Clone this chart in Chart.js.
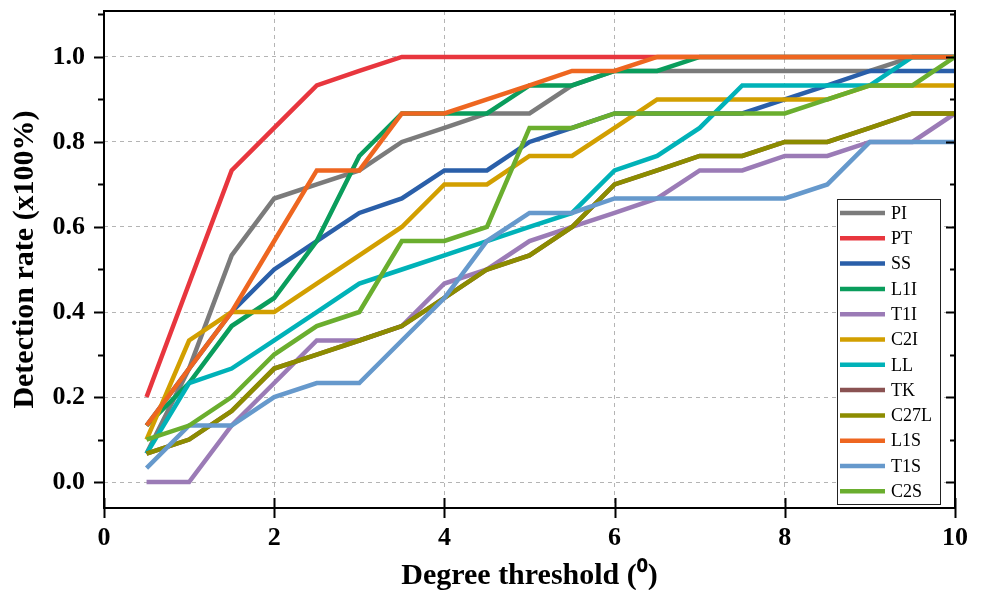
<!DOCTYPE html>
<html>
<head>
<meta charset="utf-8">
<script src="https://cdn.jsdelivr.net/npm/chart.js@4.4.1/dist/chart.umd.min.js"></script>
<style>
  body { margin: 0; background: #fff; }
  #wrap { width: 984px; height: 590px; position: relative; }
</style>
</head>
<body>
<div id="wrap"><canvas id="detChart"></canvas></div>
<script>
// degree thresholds (x axis)
var thresholds = [0.5, 1, 1.5, 2, 2.5, 3, 3.5, 4, 4.5, 5, 5.5, 6, 6.5, 7, 7.5, 8, 8.5, 9, 9.5, 10];

// detection rates per method
var PI   = [0.067, 0.267, 0.533, 0.667, 0.7, 0.733, 0.8, 0.833, 0.867, 0.867, 0.933, 0.967, 0.967, 0.967, 0.967, 0.967, 0.967, 0.967, 1, 1];
var PT   = [0.2, 0.467, 0.733, 0.833, 0.933, 0.967, 1, 1, 1, 1, 1, 1, 1, 1, 1, 1, 1, 1, 1, 1];
var SS   = [0.133, 0.267, 0.4, 0.5, 0.567, 0.633, 0.667, 0.733, 0.733, 0.8, 0.833, 0.867, 0.867, 0.867, 0.867, 0.9, 0.933, 0.967, 0.967, 0.967];
var L1I  = [0.133, 0.233, 0.367, 0.433, 0.567, 0.767, 0.867, 0.867, 0.867, 0.933, 0.933, 0.967, 0.967, 1, 1, 1, 1, 1, 1, 1];
var T1I  = [0, 0, 0.133, 0.233, 0.333, 0.333, 0.367, 0.467, 0.5, 0.567, 0.6, 0.633, 0.667, 0.733, 0.733, 0.767, 0.767, 0.8, 0.8, 0.867];
var C2I  = [0.1, 0.333, 0.4, 0.4, 0.467, 0.533, 0.6, 0.7, 0.7, 0.767, 0.767, 0.833, 0.9, 0.9, 0.9, 0.9, 0.9, 0.933, 0.933, 0.933];
var LL   = [0.067, 0.233, 0.267, 0.333, 0.4, 0.467, 0.5, 0.533, 0.567, 0.6, 0.633, 0.733, 0.767, 0.833, 0.933, 0.933, 0.933, 0.933, 1, 1];
var TK   = [0.067, 0.1, 0.167, 0.267, 0.3, 0.333, 0.367, 0.433, 0.5, 0.533, 0.6, 0.7, 0.733, 0.767, 0.767, 0.8, 0.8, 0.833, 0.867, 0.867];
var C27L = [0.067, 0.1, 0.167, 0.267, 0.3, 0.333, 0.367, 0.433, 0.5, 0.533, 0.6, 0.7, 0.733, 0.767, 0.767, 0.8, 0.8, 0.833, 0.867, 0.867];
var L1S  = [0.133, 0.267, 0.4, 0.567, 0.733, 0.733, 0.867, 0.867, 0.9, 0.933, 0.967, 0.967, 1, 1, 1, 1, 1, 1, 1, 1];
var T1S  = [0.033, 0.133, 0.133, 0.2, 0.233, 0.233, 0.333, 0.433, 0.567, 0.633, 0.633, 0.667, 0.667, 0.667, 0.667, 0.667, 0.7, 0.8, 0.8, 0.8];
var C2S  = [0.1, 0.133, 0.2, 0.3, 0.367, 0.4, 0.567, 0.567, 0.6, 0.833, 0.833, 0.867, 0.867, 0.867, 0.867, 0.867, 0.9, 0.933, 0.933, 1];

var names  = ['PI', 'PT', 'SS', 'L1I', 'T1I', 'C2I', 'LL', 'TK', 'C27L', 'L1S', 'T1S', 'C2S'];
var series = [PI, PT, SS, L1I, T1I, C2I, LL, TK, C27L, L1S, T1S, C2S];
var colors = ['#7b7b7b', '#e8363e', '#2a5fa9', '#0a9d5c', '#9b7bb6', '#d29f00',
              '#00b2b8', '#8a5252', '#8c8c00', '#ee6620', '#6699cc', '#6aae2e'];

var xTicks = [0, 2, 4, 6, 8, 10];
var yTicks = [0, 0.2, 0.4, 0.6, 0.8, 1.0];

var serif = "'Liberation Serif', 'Times New Roman', serif";

var datasets = names.map(function (n, i) {
    return {
        label: n,
        data: thresholds.map(function (t, k) { return { x: t, y: series[i][k] }; }),
        borderColor: colors[i],
        backgroundColor: colors[i],
        borderWidth: 4.5,
        pointRadius: 0,
        tension: 0,
        order: names.length - i // later series drawn on top
    };
});

// frame, axis ticks (major + minor) and the boxed legend
var framePlugin = {
    id: 'frame',
    afterDraw: function (chart) {
        var ctx = chart.ctx, a = chart.chartArea;
        var x = chart.scales.x, y = chart.scales.y;
        ctx.save();
        ctx.strokeStyle = '#000';
        ctx.lineWidth = 2;
        ctx.strokeRect(a.left, a.top, a.right - a.left, a.bottom - a.top);

        ctx.beginPath();
        for (var i = 0; i <= 11; i++) {
            var py = Math.round(y.getPixelForValue(i / 10)) + 0.5;
            if (py < a.top) continue;
            var major = i % 2 === 0;
            ctx.moveTo(a.left, py); ctx.lineTo(a.left - (major ? 10 : 6), py);
            ctx.moveTo(a.right, py); ctx.lineTo(a.right - (major ? 9 : 5), py);
        }
        xTicks.forEach(function (v) {
            var px = Math.round(x.getPixelForValue(v)) + 0.5;
            ctx.moveTo(px, a.bottom - 10); ctx.lineTo(px, a.bottom + 10);
        });
        ctx.stroke();

        // legend
        var lx = 837, ly = 199, lw = 103, lh = 305;
        ctx.fillStyle = '#fff';
        ctx.fillRect(lx, ly, lw, lh);
        ctx.lineWidth = 1;
        ctx.strokeStyle = '#222';
        ctx.strokeRect(lx + 0.5, ly + 0.5, lw, lh);
        ctx.font = "18px " + serif;
        ctx.textBaseline = 'middle';
        ctx.textAlign = 'left';
        chart.data.datasets.forEach(function (ds, i) {
            var cy = 213 + i * 25.3;
            ctx.strokeStyle = ds.borderColor;
            ctx.lineWidth = 4.5;
            ctx.beginPath();
            ctx.moveTo(840, cy); ctx.lineTo(885, cy);
            ctx.stroke();
            ctx.fillStyle = '#000';
            ctx.fillText(ds.label, 891, cy + 1);
        });
        ctx.restore();
    }
};

var ctx = document.getElementById('detChart').getContext('2d');
new Chart(ctx, {
    type: 'line',
    data: { datasets: datasets },
    options: {
        responsive: true,
        maintainAspectRatio: false,
        animation: false,
        layout: { padding: { left: 0, right: 29, top: 11, bottom: 0 } },
        plugins: { legend: { display: false }, tooltip: { enabled: false } },
        scales: {
            x: {
                type: 'linear',
                min: 0, max: 10,
                afterBuildTicks: function (s) { s.ticks = xTicks.map(function (v) { return { value: v }; }); },
                afterFit: function (s) { s.height = 82; s.paddingLeft = 0; s.paddingRight = 0; },
                grid: { color: '#b4b4b4', drawTicks: false, lineWidth: 1 },
                border: { display: false, dash: [4, 4] },
                ticks: { color: '#000', padding: 15, font: { family: serif, size: 26, weight: 'bold' } },
                title: {
                    display: true, text: 'Degree threshold (⁰)', color: '#000',
                    padding: { top: 0, bottom: -4 },
                    font: { family: serif, size: 30, weight: 'bold', lineHeight: 1.2 }
                }
            },
            y: {
                min: -0.061, max: 1.108,
                afterBuildTicks: function (s) { s.ticks = yTicks.map(function (v) { return { value: v }; }); },
                afterFit: function (s) { s.width = 104; s.paddingTop = 0; s.paddingBottom = 0; },
                grid: { color: '#b4b4b4', drawTicks: false, lineWidth: 1 },
                border: { display: false, dash: [4, 4] },
                ticks: {
                    color: '#000', padding: 19,
                    font: { family: serif, size: 26, weight: 'bold' },
                    callback: function (v) { return v.toFixed(1); }
                },
                title: {
                    display: true, text: 'Detection rate (x100%)', color: '#000',
                    padding: { top: 7, bottom: 0 },
                    font: { family: serif, size: 30, weight: 'bold', lineHeight: 1.2 }
                }
            }
        }
    },
    plugins: [framePlugin]
});
</script>
</body>
</html>
